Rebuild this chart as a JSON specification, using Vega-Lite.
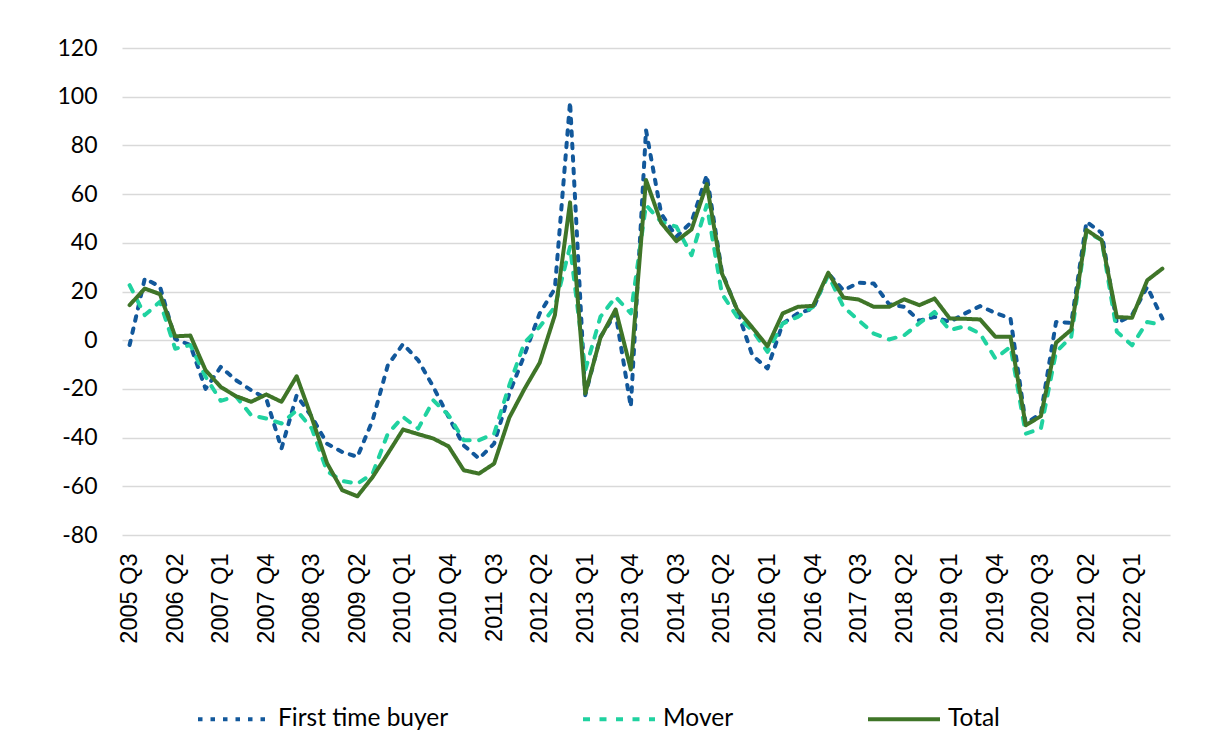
{
  "$schema": "https://vega.github.io/schema/vega-lite/v6.json",
  "width": 1048,
  "height": 487,
  "autosize": "none",
  "padding": {"left": 122, "top": 48, "right": 36, "bottom": 205},
  "background": "white",
  "config": {"view": {"stroke": null}},
  "data": {
    "values": [
      {"q":"2005 Q3","s":"First time buyer","v":-2},{"q":"2005 Q3","s":"Mover","v":22.6},{"q":"2005 Q3","s":"Total","v":14.4},
      {"q":"2005 Q4","s":"First time buyer","v":25.3},{"q":"2005 Q4","s":"Mover","v":10.3},{"q":"2005 Q4","s":"Total","v":21.2},
      {"q":"2006 Q1","s":"First time buyer","v":22},{"q":"2006 Q1","s":"Mover","v":15.8},{"q":"2006 Q1","s":"Total","v":18.9},
      {"q":"2006 Q2","s":"First time buyer","v":0.5},{"q":"2006 Q2","s":"Mover","v":-3.5},{"q":"2006 Q2","s":"Total","v":1.6},
      {"q":"2006 Q3","s":"First time buyer","v":-2},{"q":"2006 Q3","s":"Mover","v":-2},{"q":"2006 Q3","s":"Total","v":1.9},
      {"q":"2006 Q4","s":"First time buyer","v":-20},{"q":"2006 Q4","s":"Mover","v":-15},{"q":"2006 Q4","s":"Total","v":-12.3},
      {"q":"2007 Q1","s":"First time buyer","v":-11},{"q":"2007 Q1","s":"Mover","v":-24.9},{"q":"2007 Q1","s":"Total","v":-19.2},
      {"q":"2007 Q2","s":"First time buyer","v":-16.4},{"q":"2007 Q2","s":"Mover","v":-23},{"q":"2007 Q2","s":"Total","v":-23},
      {"q":"2007 Q3","s":"First time buyer","v":-20.5},{"q":"2007 Q3","s":"Mover","v":-30.8},{"q":"2007 Q3","s":"Total","v":-25.3},
      {"q":"2007 Q4","s":"First time buyer","v":-24},{"q":"2007 Q4","s":"Mover","v":-32.2},{"q":"2007 Q4","s":"Total","v":-22.3},
      {"q":"2008 Q1","s":"First time buyer","v":-44.5},{"q":"2008 Q1","s":"Mover","v":-34.2},{"q":"2008 Q1","s":"Total","v":-25.3},
      {"q":"2008 Q2","s":"First time buyer","v":-22.6},{"q":"2008 Q2","s":"Mover","v":-28.8},{"q":"2008 Q2","s":"Total","v":-14.8},
      {"q":"2008 Q3","s":"First time buyer","v":-31.5},{"q":"2008 Q3","s":"Mover","v":-36.3},{"q":"2008 Q3","s":"Total","v":-32},
      {"q":"2008 Q4","s":"First time buyer","v":-42.5},{"q":"2008 Q4","s":"Mover","v":-53.8},{"q":"2008 Q4","s":"Total","v":-50.5},
      {"q":"2009 Q1","s":"First time buyer","v":-45.9},{"q":"2009 Q1","s":"Mover","v":-57.8},{"q":"2009 Q1","s":"Total","v":-61.6},
      {"q":"2009 Q2","s":"First time buyer","v":-47.9},{"q":"2009 Q2","s":"Mover","v":-58.9},{"q":"2009 Q2","s":"Total","v":-64.1},
      {"q":"2009 Q3","s":"First time buyer","v":-32.9},{"q":"2009 Q3","s":"Mover","v":-54.8},{"q":"2009 Q3","s":"Total","v":-56.2},
      {"q":"2009 Q4","s":"First time buyer","v":-10.3},{"q":"2009 Q4","s":"Mover","v":-38.4},{"q":"2009 Q4","s":"Total","v":-46.6},
      {"q":"2010 Q1","s":"First time buyer","v":-1.6},{"q":"2010 Q1","s":"Mover","v":-31.5},{"q":"2010 Q1","s":"Total","v":-36.7},
      {"q":"2010 Q2","s":"First time buyer","v":-8.2},{"q":"2010 Q2","s":"Mover","v":-36.3},{"q":"2010 Q2","s":"Total","v":-38.6},
      {"q":"2010 Q3","s":"First time buyer","v":-19.2},{"q":"2010 Q3","s":"Mover","v":-24.7},{"q":"2010 Q3","s":"Total","v":-40.4},
      {"q":"2010 Q4","s":"First time buyer","v":-31.5},{"q":"2010 Q4","s":"Mover","v":-30.8},{"q":"2010 Q4","s":"Total","v":-43.6},
      {"q":"2011 Q1","s":"First time buyer","v":-43.2},{"q":"2011 Q1","s":"Mover","v":-41.1},{"q":"2011 Q1","s":"Total","v":-53.4},
      {"q":"2011 Q2","s":"First time buyer","v":-48.6},{"q":"2011 Q2","s":"Mover","v":-41.1},{"q":"2011 Q2","s":"Total","v":-54.8},
      {"q":"2011 Q3","s":"First time buyer","v":-42.5},{"q":"2011 Q3","s":"Mover","v":-38.4},{"q":"2011 Q3","s":"Total","v":-50.7},
      {"q":"2011 Q4","s":"First time buyer","v":-21.9},{"q":"2011 Q4","s":"Mover","v":-18.5},{"q":"2011 Q4","s":"Total","v":-31.8},
      {"q":"2012 Q1","s":"First time buyer","v":-6},{"q":"2012 Q1","s":"Mover","v":-1},{"q":"2012 Q1","s":"Total","v":-20},
      {"q":"2012 Q2","s":"First time buyer","v":11},{"q":"2012 Q2","s":"Mover","v":5.5},{"q":"2012 Q2","s":"Total","v":-9.3},
      {"q":"2012 Q3","s":"First time buyer","v":21.2},{"q":"2012 Q3","s":"Mover","v":13.7},{"q":"2012 Q3","s":"Total","v":10.3},
      {"q":"2012 Q4","s":"First time buyer","v":97.9},{"q":"2012 Q4","s":"Mover","v":38.4},{"q":"2012 Q4","s":"Total","v":56.6},
      {"q":"2013 Q1","s":"First time buyer","v":-22.6},{"q":"2013 Q1","s":"Mover","v":-12.3},{"q":"2013 Q1","s":"Total","v":-21.9},
      {"q":"2013 Q2","s":"First time buyer","v":1.4},{"q":"2013 Q2","s":"Mover","v":9.6},{"q":"2013 Q2","s":"Total","v":1},
      {"q":"2013 Q3","s":"First time buyer","v":11},{"q":"2013 Q3","s":"Mover","v":17.8},{"q":"2013 Q3","s":"Total","v":12.6},
      {"q":"2013 Q4","s":"First time buyer","v":-27.4},{"q":"2013 Q4","s":"Mover","v":11},{"q":"2013 Q4","s":"Total","v":-12},
      {"q":"2014 Q1","s":"First time buyer","v":86.3},{"q":"2014 Q1","s":"Mover","v":55.5},{"q":"2014 Q1","s":"Total","v":65.8},
      {"q":"2014 Q2","s":"First time buyer","v":52},{"q":"2014 Q2","s":"Mover","v":48.6},{"q":"2014 Q2","s":"Total","v":48.2},
      {"q":"2014 Q3","s":"First time buyer","v":42.5},{"q":"2014 Q3","s":"Mover","v":46.6},{"q":"2014 Q3","s":"Total","v":40.7},
      {"q":"2014 Q4","s":"First time buyer","v":48.6},{"q":"2014 Q4","s":"Mover","v":34.9},{"q":"2014 Q4","s":"Total","v":45.5},
      {"q":"2015 Q1","s":"First time buyer","v":67.8},{"q":"2015 Q1","s":"Mover","v":55.5},{"q":"2015 Q1","s":"Total","v":64.1},
      {"q":"2015 Q2","s":"First time buyer","v":28},{"q":"2015 Q2","s":"Mover","v":19},{"q":"2015 Q2","s":"Total","v":27.4},
      {"q":"2015 Q3","s":"First time buyer","v":12.3},{"q":"2015 Q3","s":"Mover","v":9.6},{"q":"2015 Q3","s":"Total","v":12.6},
      {"q":"2015 Q4","s":"First time buyer","v":-6.2},{"q":"2015 Q4","s":"Mover","v":4.1},{"q":"2015 Q4","s":"Total","v":5.2},
      {"q":"2016 Q1","s":"First time buyer","v":-11.6},{"q":"2016 Q1","s":"Mover","v":-4.8},{"q":"2016 Q1","s":"Total","v":-2.5},
      {"q":"2016 Q2","s":"First time buyer","v":6.8},{"q":"2016 Q2","s":"Mover","v":6.8},{"q":"2016 Q2","s":"Total","v":11},
      {"q":"2016 Q3","s":"First time buyer","v":11},{"q":"2016 Q3","s":"Mover","v":9.6},{"q":"2016 Q3","s":"Total","v":13.7},
      {"q":"2016 Q4","s":"First time buyer","v":13},{"q":"2016 Q4","s":"Mover","v":13.7},{"q":"2016 Q4","s":"Total","v":14.1},
      {"q":"2017 Q1","s":"First time buyer","v":27.4},{"q":"2017 Q1","s":"Mover","v":26.7},{"q":"2017 Q1","s":"Total","v":27.7},
      {"q":"2017 Q2","s":"First time buyer","v":20.5},{"q":"2017 Q2","s":"Mover","v":13.7},{"q":"2017 Q2","s":"Total","v":17.5},
      {"q":"2017 Q3","s":"First time buyer","v":23.6},{"q":"2017 Q3","s":"Mover","v":8.2},{"q":"2017 Q3","s":"Total","v":16.7},
      {"q":"2017 Q4","s":"First time buyer","v":23.3},{"q":"2017 Q4","s":"Mover","v":2.7},{"q":"2017 Q4","s":"Total","v":13.7},
      {"q":"2018 Q1","s":"First time buyer","v":14.8},{"q":"2018 Q1","s":"Mover","v":0.3},{"q":"2018 Q1","s":"Total","v":13.7},
      {"q":"2018 Q2","s":"First time buyer","v":13.7},{"q":"2018 Q2","s":"Mover","v":2},{"q":"2018 Q2","s":"Total","v":16.8},
      {"q":"2018 Q3","s":"First time buyer","v":8},{"q":"2018 Q3","s":"Mover","v":7},{"q":"2018 Q3","s":"Total","v":14.4},
      {"q":"2018 Q4","s":"First time buyer","v":9.6},{"q":"2018 Q4","s":"Mover","v":11.6},{"q":"2018 Q4","s":"Total","v":17.1},
      {"q":"2019 Q1","s":"First time buyer","v":7.5},{"q":"2019 Q1","s":"Mover","v":4.1},{"q":"2019 Q1","s":"Total","v":8.9},
      {"q":"2019 Q2","s":"First time buyer","v":11},{"q":"2019 Q2","s":"Mover","v":5.8},{"q":"2019 Q2","s":"Total","v":8.8},
      {"q":"2019 Q3","s":"First time buyer","v":14},{"q":"2019 Q3","s":"Mover","v":2.7},{"q":"2019 Q3","s":"Total","v":8.5},
      {"q":"2019 Q4","s":"First time buyer","v":11.2},{"q":"2019 Q4","s":"Mover","v":-7.5},{"q":"2019 Q4","s":"Total","v":1.4},
      {"q":"2020 Q1","s":"First time buyer","v":8.9},{"q":"2020 Q1","s":"Mover","v":-2.7},{"q":"2020 Q1","s":"Total","v":1.4},
      {"q":"2020 Q2","s":"First time buyer","v":-34.2},{"q":"2020 Q2","s":"Mover","v":-38.4},{"q":"2020 Q2","s":"Total","v":-34.9},
      {"q":"2020 Q3","s":"First time buyer","v":-30.1},{"q":"2020 Q3","s":"Mover","v":-36.3},{"q":"2020 Q3","s":"Total","v":-31.2},
      {"q":"2020 Q4","s":"First time buyer","v":7.5},{"q":"2020 Q4","s":"Mover","v":-4.8},{"q":"2020 Q4","s":"Total","v":-1},
      {"q":"2021 Q1","s":"First time buyer","v":7.1},{"q":"2021 Q1","s":"Mover","v":1.4},{"q":"2021 Q1","s":"Total","v":4.3},
      {"q":"2021 Q2","s":"First time buyer","v":48.6},{"q":"2021 Q2","s":"Mover","v":44.5},{"q":"2021 Q2","s":"Total","v":45.3},
      {"q":"2021 Q3","s":"First time buyer","v":44.1},{"q":"2021 Q3","s":"Mover","v":41.1},{"q":"2021 Q3","s":"Total","v":41.1},
      {"q":"2021 Q4","s":"First time buyer","v":7},{"q":"2021 Q4","s":"Mover","v":3.5},{"q":"2021 Q4","s":"Total","v":9.5},
      {"q":"2022 Q1","s":"First time buyer","v":10.3},{"q":"2022 Q1","s":"Mover","v":-2.1},{"q":"2022 Q1","s":"Total","v":9.2},
      {"q":"2022 Q2","s":"First time buyer","v":21.9},{"q":"2022 Q2","s":"Mover","v":7.5},{"q":"2022 Q2","s":"Total","v":24.6},
      {"q":"2022 Q3","s":"First time buyer","v":8.9},{"q":"2022 Q3","s":"Mover","v":6.2},{"q":"2022 Q3","s":"Total","v":29.4}
    ]
  },
  "mark": {"type": "line", "strokeWidth": 4, "strokeCap": "round", "strokeJoin": "round"},
  "encoding": {
    "x": {
      "field": "q", "type": "ordinal", "sort": null,
      "scale": {"type": "point", "padding": 0.5},
      "axis": {
        "title": null, "domain": false, "ticks": false, "grid": false,
        "labelAngle": -90, "labelPadding": 18,
        "labelFont": "Liberation Sans", "labelFontSize": 23.5, "labelColor": "#000000",
        "labelOverlap": false,
        "values": ["2005 Q3","2006 Q2","2007 Q1","2007 Q4","2008 Q3","2009 Q2","2010 Q1","2010 Q4","2011 Q3","2012 Q2","2013 Q1","2013 Q4","2014 Q3","2015 Q2","2016 Q1","2016 Q4","2017 Q3","2018 Q2","2019 Q1","2019 Q4","2020 Q3","2021 Q2","2022 Q1"]
      }
    },
    "y": {
      "field": "v", "type": "quantitative",
      "scale": {"domain": [-80, 120], "nice": false, "zero": false},
      "axis": {
        "title": null, "domain": false, "ticks": false,
        "values": [-80,-60,-40,-20,0,20,40,60,80,100,120],
        "labelExpr": "toString(datum.value)",
        "grid": true, "gridColor": "#D9D9D9", "gridWidth": 1.5,
        "labelPadding": 25, "labelFont": "Lato", "labelFontSize": 23, "labelColor": "#000000"
      }
    },
    "color": {
      "field": "s", "type": "nominal",
      "scale": {"domain": ["First time buyer","Mover","Total"], "range": ["#12589B","#20D2A0","#3F7528"]},
      "legend": {
        "title": null, "orient": "none", "direction": "horizontal",
        "legendX": 74, "legendY": 633,
        "symbolType": "stroke", "symbolSize": 5184, "symbolStrokeWidth": 4,
        "labelFont": "Lato", "labelFontSize": 24.5, "labelColor": "#000000",
        "labelOffset": 6, "columnPadding": 126, "labelLimit": 400
      }
    },
    "strokeDash": {
      "field": "s", "type": "nominal",
      "scale": {"domain": ["First time buyer","Mover","Total"], "range": [[4.5,8],[7,9.5],[1,0]]},
      "legend": {
        "title": null, "orient": "none", "direction": "horizontal",
        "legendX": 74, "legendY": 633,
        "symbolType": "stroke", "symbolSize": 5184, "symbolStrokeWidth": 4,
        "labelFont": "Lato", "labelFontSize": 24.5, "labelColor": "#000000",
        "labelOffset": 6, "columnPadding": 126, "labelLimit": 400
      }
    }
  }
}
